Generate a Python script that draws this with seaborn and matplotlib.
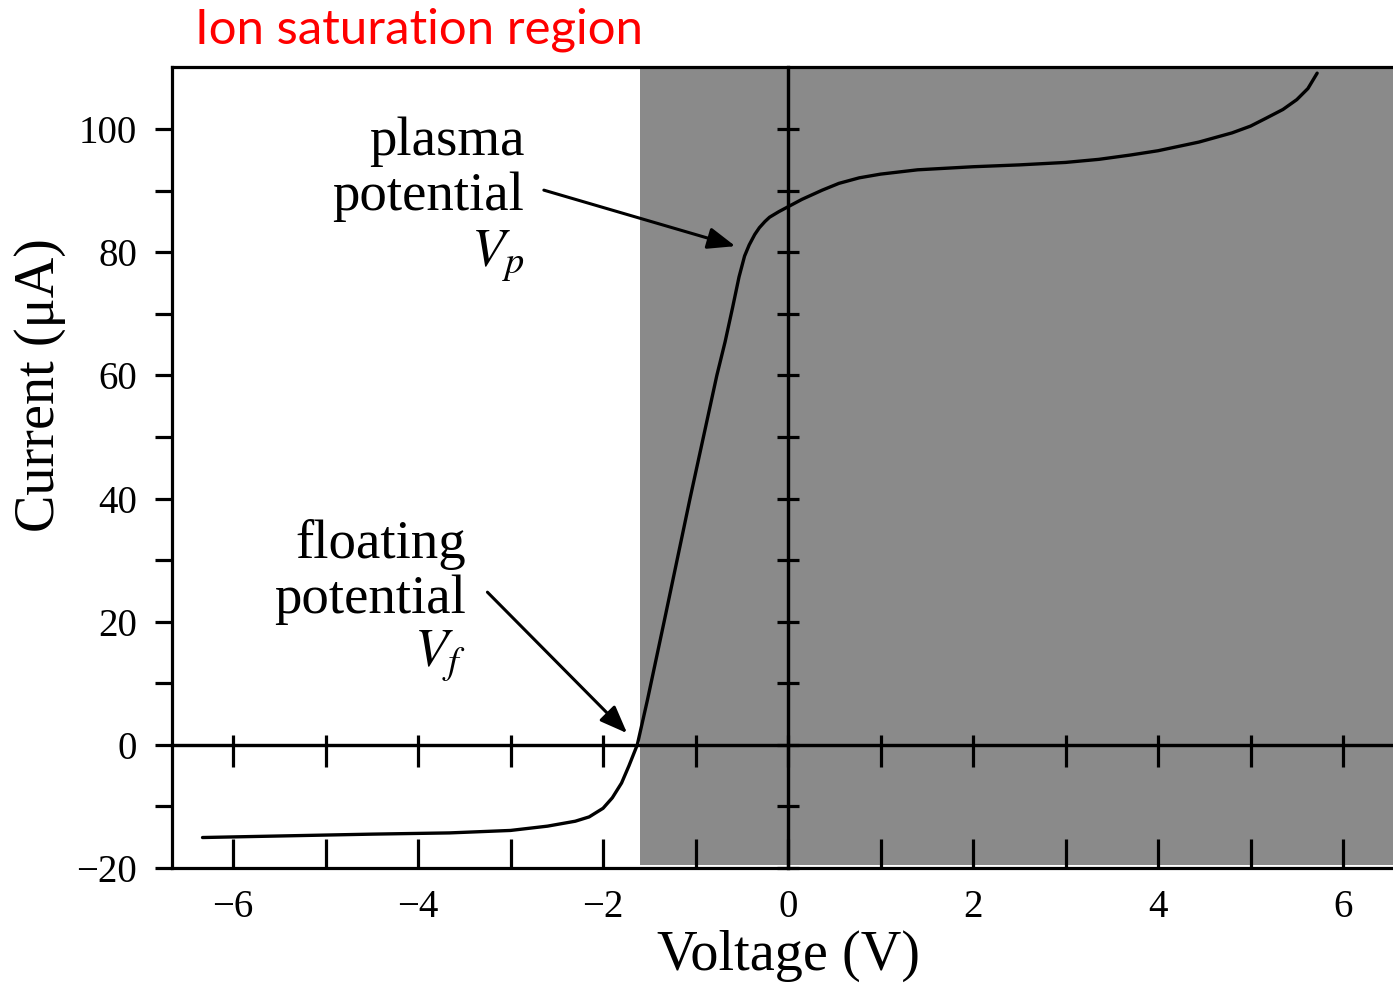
import numpy as np
import pandas as pd
import matplotlib
matplotlib.use("Agg")
import matplotlib.pyplot as plt
import seaborn as sns

# I-V curve of a Langmuir probe
voltage = [-6.33, -5.5, -4.5, -3.66, -3.0, -2.6, -2.3, -2.15, -2.0, -1.9, -1.8, -1.72,
           -1.63, -1.52, -1.34, -1.06, -0.77, -0.68, -0.6, -0.53, -0.47, -0.42, -0.36,
           -0.31, -0.25, -0.2, -0.1, 0.0, 0.15, 0.37, 0.55, 0.77, 1.0, 1.4, 2.0, 2.5,
           3.0, 3.36, 3.7, 4.0, 4.44, 4.8, 5.0, 5.17, 5.35, 5.5, 5.62, 5.72]
current = [-15.05, -14.8, -14.5, -14.3, -13.9, -13.2, -12.4, -11.7, -10.3, -8.6, -6.2, -3.4,
           0.0, 7.3, 20.0, 40.0, 60.0, 65.5, 71.0, 76.0, 79.4, 81.2, 82.9,
           84.0, 85.0, 85.7, 86.6, 87.4, 88.6, 90.1, 91.2, 92.1, 92.7, 93.4, 93.9, 94.2,
           94.6, 95.1, 95.8, 96.5, 97.9, 99.4, 100.5, 101.8, 103.2, 104.8, 106.6, 109.1]

# shaded ion saturation region starts here
shade_start = -1.6

# annotation texts and where they point
vp_lines = ["plasma", "potential", r"$V_p$"]
vp_text_x = -2.85
vp_text_y = [95.8, 86.9, 77.6]
vp_tail = (-2.64, 90.1)
vp_head = (-0.57, 81.0)

vf_lines = ["floating", "potential", r"$V_f$"]
vf_text_x = -3.48
vf_text_y = [30.4, 21.4, 12.7]
vf_tail = (-3.25, 24.8)
vf_head = (-1.74, 1.9)

x_major = [-6, -4, -2, 0, 2, 4, 6]
x_minor = [-5, -3, -1, 1, 3, 5]
y_major = [-20, 0, 20, 40, 60, 80, 100]
y_minor = [-10, 10, 30, 50, 70, 90]

xlim = (-6.66, 6.54)
ylim = (-20, 110.1)

sns.set_theme(style="white")
plt.rcParams["font.family"] = ["Liberation Serif", "DejaVu Serif"]
plt.rcParams["mathtext.fontset"] = "stix"
plt.rcParams["text.color"] = "black"
plt.rcParams["axes.labelcolor"] = "black"
plt.rcParams["xtick.color"] = "black"
plt.rcParams["ytick.color"] = "black"


def fmt(v):
    return f"\u2212{abs(v)}" if v < 0 else str(v)


df = pd.DataFrame({"Voltage": voltage, "Current": current})

W, H = 1393, 983
fig = plt.figure(figsize=(W / 100, H / 100), dpi=100)
pos = [172 / W, (H - 868) / H, (W - 172) / W, (868 - 67) / H]
ax = fig.add_axes(pos)

ax.axvspan(shade_start, xlim[1], ymin=0.004, ymax=1.0, color="#8a8a8a", lw=0, zorder=0)
sns.lineplot(data=df, x="Voltage", y="Current", ax=ax, color="black", lw=2.4,
             sort=False, estimator=None, zorder=3)

ax.set_xlim(*xlim)
ax.set_ylim(*ylim)

for s in ["top", "left", "bottom"]:
    ax.spines[s].set_visible(True)
    ax.spines[s].set_color("black")
    ax.spines[s].set_linewidth(2.3)
ax.spines["right"].set_visible(False)

ax.set_xticks(x_major)
ax.set_xticks(x_minor, minor=True)
ax.set_xticklabels([fmt(v) for v in x_major])
ax.set_yticks(y_major)
ax.set_yticks(y_minor, minor=True)
ax.set_yticklabels([fmt(v) for v in y_major])

ax.tick_params(axis="x", which="both", direction="in", length=21, width=2.3,
               bottom=True, top=False, labelsize=28, pad=15)
ax.tick_params(axis="y", which="both", direction="out", length=12, width=2.3,
               left=True, right=False, labelsize=28, pad=13)

ax.set_xlabel("")
ax.set_ylabel("")
fig.text(789 / W, 13 / H, "Voltage (V)", ha="center", va="baseline", fontsize=40.5)
fig.text(40 / W, 1 - 385 / H, "Current (\u03bcA)", ha="center", va="center",
         rotation=90, fontsize=40.5)

# zero axes through the origin, drawn on an overlay axes
ax0 = fig.add_axes(pos, sharex=ax, sharey=ax)
ax0.patch.set_alpha(0)
for s in ["bottom", "top", "left", "right"]:
    ax0.spines[s].set_position(("data", 0))
    ax0.spines[s].set_visible(True)
    ax0.spines[s].set_color("black")
    ax0.spines[s].set_linewidth(2.3)
ax0.tick_params(axis="x", which="both", bottom=True, top=True, direction="out",
                labelbottom=False, labeltop=False, length=16, width=2.3)
ax0.tick_params(axis="y", which="both", left=True, right=True, direction="out",
                labelleft=False, labelright=False, length=8, width=2.3)
for t in ax0.xaxis.get_major_ticks() + ax0.xaxis.get_minor_ticks():
    t.tick2line.set_markersize(7)

# annotations
for lab, yy in zip(vp_lines, vp_text_y):
    ax.text(vp_text_x, yy, lab, ha="right", va="baseline", fontsize=39.5, zorder=5)
for lab, yy in zip(vf_lines, vf_text_y):
    ax.text(vf_text_x, yy, lab, ha="right", va="baseline", fontsize=39.5, zorder=5)

arrow_kw = dict(arrowstyle="-|>,head_length=1.4,head_width=0.55", color="black",
                lw=2.2, shrinkA=0, shrinkB=0)
ax.annotate("", xy=vp_head, xytext=vp_tail, arrowprops=arrow_kw, zorder=5)
ax.annotate("", xy=vf_head, xytext=vf_tail, arrowprops=arrow_kw, zorder=5)

fig.text(195 / W, 1 - 43 / H, "Ion saturation region", color="#ff0000",
         ha="left", va="baseline", fontsize=35.4, family=["Lato", "DejaVu Sans"])

fig.savefig("out.png", dpi=100)
